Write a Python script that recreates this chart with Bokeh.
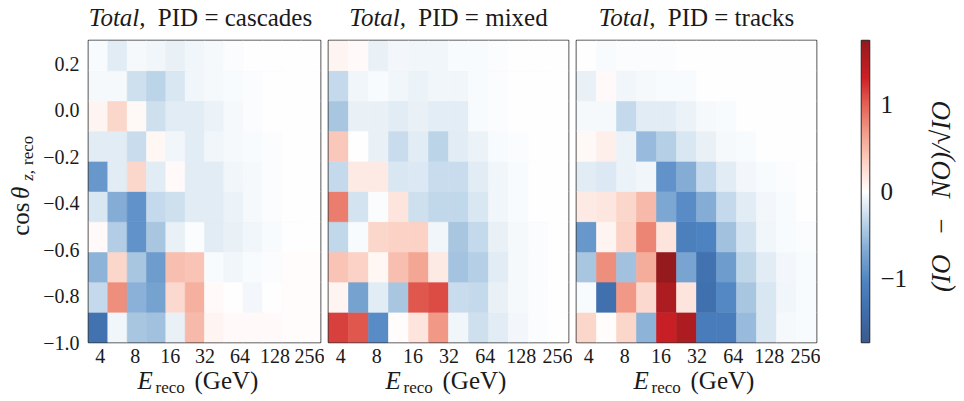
import numpy as np
from math import pi
from bokeh.plotting import figure
from bokeh.layouts import row, column
from bokeh.models import Range1d, FixedTicker, LinearColorMapper, ColumnDataSource
from bokeh.core.properties import value
from bokeh.transform import transform
from bokeh.embed import file_html
from bokeh.resources import INLINE

# ---------------- data ----------------
E_LOG_MIN, E_LOG_MAX, N_E = 0.5, 2.5, 12          # log10(E/GeV) bin range, 12 bins
COS_EDGES = [-1.0, -0.87, -0.74, -0.61, -0.48, -0.35, -0.22, -0.09, 0.04, 0.17, 0.30]
E_TICKS = [4, 8, 16, 32, 64, 128, 256]
COS_TICKS = [-1.0, -0.8, -0.6, -0.4, -0.2, 0.0, 0.2]
CBAR_TICKS = [-1, 0, 1]
VMAX = 1.73
PID_LABELS = ["cascades", "mixed", "tracks"]

# rows ordered from cos = -1 (bottom) to cos = 0.3 (top); columns low -> high energy
cascades = [
    [-1.30, -0.08, -0.45, -0.50, -0.12, 0.50, 0.07, 0.03, 0.03, 0.03, 0.02, 0.02],
    [-0.30, 0.75, -0.62, -0.75, 0.28, 0.55, 0.04, 0.00, -0.06, 0.00, 0.02, 0.02],
    [-0.60, 0.30, -0.45, -0.80, 0.45, 0.42, -0.03, -0.08, -0.04, -0.02, 0.02, 0.02],
    [0.03, -0.40, -0.90, -0.45, -0.12, -0.02, -0.15, -0.12, -0.07, -0.03, -0.01, 0.00],
    [-0.20, -0.65, -0.90, -0.30, -0.25, -0.15, -0.15, -0.10, -0.05, -0.02, -0.01, 0.00],
    [-0.85, -0.15, 0.30, -0.15, 0.03, -0.15, -0.15, -0.08, -0.05, -0.02, -0.01, 0.00],
    [-0.15, -0.15, -0.28, 0.06, -0.08, -0.15, -0.08, -0.05, -0.03, -0.02, -0.01, 0.00],
    [0.08, 0.30, 0.05, -0.25, -0.15, -0.15, -0.10, -0.05, -0.02, -0.01, 0.00, 0.00],
    [-0.05, -0.05, -0.25, -0.35, -0.20, -0.08, -0.05, -0.03, -0.02, -0.01, -0.01, 0.00],
    [-0.03, -0.15, -0.05, -0.07, -0.12, -0.08, -0.05, -0.02, -0.01, -0.01, 0.00, 0.00],
]
mixed = [
    [1.15, 1.05, -0.95, 0.02, 0.20, 0.70, -0.08, -0.25, -0.15, -0.06, -0.02, -0.01],
    [0.08, -0.75, -0.15, -0.45, 1.05, 1.10, -0.28, -0.30, -0.12, -0.05, -0.02, 0.00],
    [0.42, 0.33, 0.06, 0.45, 0.62, 0.15, -0.48, -0.38, -0.15, -0.05, -0.02, 0.00],
    [-0.32, -0.03, 0.30, 0.33, 0.33, -0.08, -0.45, -0.30, -0.12, -0.05, -0.02, 0.00],
    [0.85, -0.22, -0.02, 0.20, -0.25, -0.32, -0.32, -0.20, -0.08, -0.04, -0.01, 0.00],
    [-0.30, 0.15, 0.15, -0.20, -0.18, -0.28, -0.28, -0.15, -0.07, -0.03, -0.01, 0.00],
    [0.40, 0.00, -0.12, -0.28, -0.15, -0.35, -0.15, -0.10, -0.04, -0.02, -0.01, 0.00],
    [-0.45, -0.12, -0.12, -0.15, -0.12, -0.14, -0.14, -0.03, -0.02, -0.01, -0.01, 0.00],
    [-0.30, -0.08, -0.04, -0.08, -0.10, -0.08, -0.07, -0.04, -0.02, -0.01, -0.01, 0.00],
    [0.08, 0.04, -0.12, -0.06, -0.07, -0.07, -0.04, -0.03, -0.02, -0.01, -0.01, 0.00],
]
tracks = [
    [0.30, 0.02, 0.30, -0.60, 1.35, 1.55, -1.15, -1.15, -0.55, -0.20, -0.05, -0.03],
    [-0.04, -1.35, 0.70, 0.28, 1.55, 0.20, -1.35, -1.00, -0.45, -0.20, -0.08, -0.03],
    [-0.45, 0.75, -0.50, 0.58, 1.73, -0.72, -1.30, -0.80, -0.33, -0.15, -0.06, -0.03],
    [-0.85, 0.07, 0.33, 0.80, 0.20, -1.10, -1.05, -0.50, -0.22, -0.08, -0.04, -0.02],
    [0.15, 0.18, 0.30, 0.50, -0.70, -0.95, -0.65, -0.30, -0.15, -0.06, -0.03, -0.01],
    [-0.15, -0.18, -0.10, -0.08, -0.90, -0.65, -0.30, -0.15, -0.06, -0.03, -0.02, -0.01],
    [0.05, 0.12, -0.10, -0.55, -0.38, -0.20, -0.12, -0.05, -0.03, -0.01, -0.01, 0.00],
    [-0.05, -0.05, -0.30, -0.15, -0.15, -0.10, -0.05, -0.03, -0.01, 0.00, 0.00, 0.00],
    [-0.12, 0.03, -0.07, -0.05, -0.03, -0.03, -0.01, 0.00, 0.00, 0.00, 0.00, 0.00],
    [0.00, -0.03, -0.02, -0.02, -0.02, -0.01, 0.00, 0.00, 0.00, 0.00, 0.00, 0.00],
]
PANELS = [cascades, mixed, tracks]

# ---------------- style / layout ----------------
FONT = "Liberation Serif"
TXT = "#1a1a1a"
FRAME_W, FRAME_H = 240, 303
TITLE_H, XLAB_H = 38, 33
MID_TOP, MID_BOT = 2, 22
MID_H = MID_TOP + FRAME_H + MID_BOT
YLAB_W = 40
P1_LEFT, GAP_L, GAP_R = 40, 4, 4
CB_LEFT, CB_W, CB_RIGHT = 41, 16, 33
CBLAB_W = 46
TOTAL_W = YLAB_W + (P1_LEFT + FRAME_W + GAP_R) + 2 * (GAP_L + FRAME_W + GAP_R) + CB_LEFT + CB_W + CB_RIGHT + CBLAB_W
MID_Y0 = TITLE_H                    # page y of the middle row
XLAB_Y0 = TITLE_H + MID_H           # page y of the x-label row
MID_FRAC = 0.3375                   # em-box middle above the baseline (Liberation Serif)

ANCHORS = [(0.00, "#3a5b8e"), (0.10, "#3f6eab"), (0.20, "#4e84c2"), (0.30, "#7ea8d3"),
           (0.40, "#bcd4e8"), (0.50, "#ffffff"), (0.60, "#fbd0c3"), (0.70, "#f19a87"),
           (0.80, "#e15a4f"), (0.88, "#cc1f26"), (1.00, "#941a1d")]


def _rgb(h):
    return [int(h[i:i + 2], 16) for i in (1, 3, 5)]


def make_palette(n=256):
    fs = [a[0] for a in ANCHORS]
    cs = np.array([_rgb(a[1]) for a in ANCHORS], dtype=float)
    out = []
    for ti in np.linspace(0, 1, n):
        r, g, b = (np.interp(ti, fs, cs[:, k]) for k in range(3))
        out.append("#%02x%02x%02x" % (int(round(r)), int(round(g)), int(round(b))))
    return out


PALETTE = make_palette()
mapper = LinearColorMapper(palette=PALETTE, low=-VMAX, high=VMAX)

# Times-like advance widths (per 1000 em) for composing labels
W_REG = {" ": 250, "P": 556, "I": 333, "D": 722, "=": 564, "c": 444, "a": 444, "s": 389,
         "d": 500, "e": 444, "m": 778, "i": 278, "x": 500, "t": 278, "r": 333, "k": 500}
W_IT = {"T": 556, "o": 500, "t": 278, "a": 500, "l": 278, ",": 250}


def text_w(s, size, table):
    return sum(table.get(ch, 500) for ch in s) * size / 1000.0


e_edges = 10 ** np.linspace(E_LOG_MIN, E_LOG_MAX, N_E + 1)
E_MIN, E_MAX = e_edges[0], e_edges[-1]


def text_canvas(w, h):
    """A blank figure whose frame is the whole canvas, with pixel coordinates."""
    f = figure(width=w, height=h, x_range=Range1d(0, w), y_range=Range1d(0, h),
               x_axis_location=None, y_axis_location=None, output_backend="svg",
               toolbar_location=None, min_border=0, min_border_left=0, min_border_right=0,
               min_border_top=0, min_border_bottom=0)
    f.grid.visible = False
    f.outline_line_color = None
    f.background_fill_color = "white"
    f.border_fill_color = "white"
    return f


def lab(p, text, x, y_top, size, italic=False, align="left", angle=0.0):
    """Draw a text whose em-box middle is at (x, y measured from the canvas top)."""
    h = p.height
    p.text(x=[x], y=[h - y_top], text=[text], angle=angle,
           text_font=value(FONT), text_font_size=value(f"{size}px"),
           text_font_style=value("italic" if italic else "normal"), text_color=TXT,
           text_align=value(align), text_baseline=value("middle"))


def style_axis(ax, ticks, labels, standoff, size):
    ax.ticker = FixedTicker(ticks=ticks)
    ax.major_label_overrides = dict(zip(ticks, labels))
    ax.major_tick_line_color = None
    ax.minor_tick_line_color = None
    ax.axis_line_color = None
    ax.major_label_standoff = standoff
    ax.major_label_text_font = FONT
    ax.major_label_text_font_size = f"{size}px"
    ax.major_label_text_color = TXT


def make_panel(vals, first):
    left = P1_LEFT if first else GAP_L
    p = figure(width=left + FRAME_W + GAP_R, height=MID_H, x_axis_type="log",
               x_range=Range1d(E_MIN, E_MAX), y_range=Range1d(COS_EDGES[0], COS_EDGES[-1]),
               output_backend="svg", toolbar_location=None,
               min_border_left=left, min_border_right=GAP_R, min_border_top=MID_TOP,
               min_border_bottom=MID_BOT)
    L, R, B, T, V = [], [], [], [], []
    for i, rvals in enumerate(vals):
        for j, v in enumerate(rvals):
            L.append(e_edges[j]); R.append(e_edges[j + 1])
            B.append(COS_EDGES[i]); T.append(COS_EDGES[i + 1]); V.append(v)
    src = ColumnDataSource(dict(left=L, right=R, bottom=B, top=T, v=V))
    p.quad(left="left", right="right", bottom="bottom", top="top", source=src,
           fill_color=transform("v", mapper), line_color=transform("v", mapper), line_width=0.6)
    p.grid.visible = False
    p.outline_line_color = "#333333"
    p.outline_line_width = 1.6
    p.background_fill_color = "white"
    p.border_fill_color = "white"
    style_axis(p.xaxis[0], E_TICKS, [str(t) for t in E_TICKS], 0, 20)
    if first:
        style_axis(p.yaxis[0], COS_TICKS, [f"{t:.1f}".replace("-", "\u2212") for t in COS_TICKS], 3, 20)
    else:
        p.yaxis[0].visible = False
    return p


panels = [make_panel(v, k == 0) for k, v in enumerate(PANELS)]

# ---------------- colour bar ----------------
cb = figure(width=CB_LEFT + CB_W + CB_RIGHT, height=MID_H, x_range=Range1d(0, 1),
            y_range=Range1d(-VMAX, VMAX), x_axis_location=None, y_axis_location="right",
            output_backend="svg", toolbar_location=None, min_border_left=CB_LEFT,
            min_border_right=CB_RIGHT, min_border_top=MID_TOP - 1, min_border_bottom=MID_BOT - 1)
grad = np.linspace(-VMAX, VMAX, 256).reshape(-1, 1)
cb.image(image=[grad], x=0, y=-VMAX, dw=1, dh=2 * VMAX, color_mapper=mapper)
cb.grid.visible = False
cb.outline_line_color = "#333333"
cb.outline_line_width = 1.6
cb.border_fill_color = "white"
style_axis(cb.yaxis[0], CBAR_TICKS, [str(t).replace("-", "\u2212") for t in CBAR_TICKS], 5, 25)

# ---------------- text canvases ----------------
# y-axis label  cos θ_{z, reco}  (rotated; positions are centres in page pixels)
ylab = text_canvas(YLAB_W, MID_H)
main_x = 28 - MID_FRAC * 25
sub_x = 33 - MID_FRAC * 17
lab(ylab, "cos", main_x, 231.5 - MID_Y0, 25, align="center", angle=pi / 2)
lab(ylab, "\u03b8", main_x, 203 - MID_Y0, 25, italic=True, align="center", angle=pi / 2)
lab(ylab, "z,", sub_x, 184 - MID_Y0, 17, italic=True, align="center", angle=pi / 2)
lab(ylab, "reco", sub_x, 157 - MID_Y0, 17, align="center", angle=pi / 2)

# colour-bar label (centre at page y 207)
cblab = text_canvas(CBLAB_W, MID_H)
lab(cblab, "(IO\u2002\u2009\u2212\u2009\u2002NO)/\u221aIO", 30, 207 - MID_Y0, 27, italic=True,
    align="center", angle=pi / 2)

# panel frame centres (x, page pixels)
centers = []
x0 = YLAB_W + P1_LEFT
for k in range(3):
    centers.append(x0 + FRAME_W / 2)
    x0 += FRAME_W + GAP_R + GAP_L

titles = text_canvas(TOTAL_W, TITLE_H)
title_mid = 25 - MID_FRAC * 25          # baseline at page y 25
for cx, pid in zip(centers, PID_LABELS):
    t1, t2 = "Total,", f"PID = {pid}"
    w1, w2 = text_w(t1, 25, W_IT), text_w(t2, 25, W_REG)
    start = cx - (w1 + 10 + w2) / 2
    lab(titles, t1, start, title_mid, 25, italic=True)
    lab(titles, t2, start + w1 + 10, title_mid, 25)

xlabs = text_canvas(TOTAL_W, XLAB_H)
main_mid = 388 - MID_FRAC * 25 - XLAB_Y0     # baseline at page y 388
sub_mid = 393 - MID_FRAC * 17 - XLAB_Y0      # subscript baseline at page y 393
for cx in centers:
    lab(xlabs, "E", cx - 63, main_mid, 25, italic=True)
    lab(xlabs, "reco", cx - 45, sub_mid, 17)
    lab(xlabs, "(GeV)", cx - 6, main_mid, 25)

layout = column(titles, row(ylab, *panels, cb, cblab), xlabs)
open("out.html", "w").write(file_html(layout, INLINE))
